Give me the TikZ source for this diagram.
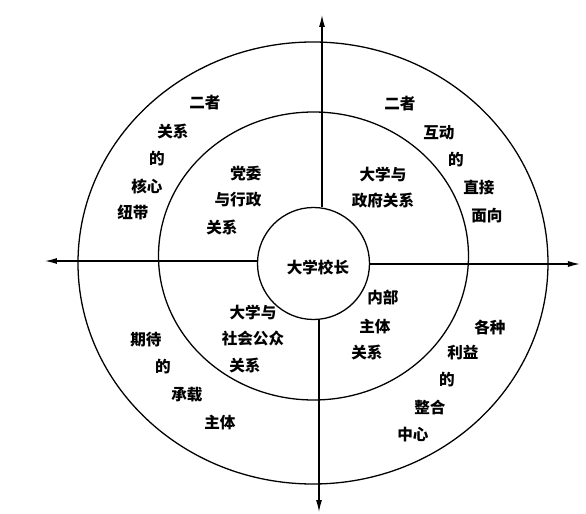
\documentclass[tikz,border=0pt]{standalone}
\usepackage{fontspec}
\newfontfamily\cjk{Noto Sans CJK SC}
\usetikzlibrary{arrows.meta}

\tikzset{
  ring/.style={line width=1.1pt},
  axis/.style={line width=1pt,-{Latex[length=3.6mm,width=1.8mm]}},
  lbl/.style={font=\cjk\bfseries\fontsize{13.3pt}{16pt}\selectfont,inner sep=0pt}
}

\begin{document}
\begin{tikzpicture}[x=0.3mm,y=0.3mm]

\useasboundingbox (-313,263) rectangle (273,-251);

% rings
\draw[ring] (0,0) ellipse [x radius=235, y radius=221];
\draw[ring] (0.5,7) ellipse [x radius=155, y radius=144];
\node[ring,draw,circle,minimum size=33.6mm,inner sep=0pt] (pres) at (0.5,-0.5) {};
\node[lbl] (prestxt) at (5,-4) {大学校长};

% axis ends
\coordinate (N) at (9,248);
\coordinate (S) at (6,-249);
\coordinate (W) at (-268,2);
\coordinate (E) at (267,-1);

\draw[axis] (pres.north -| N) -- (N);
\draw[axis] (pres.south -| S) -- (S);
\draw[axis] (pres.west |- W) -- (W);
\draw[axis] (pres.east |- E) -- (E);

% inner ring
\foreach \x/\y/\t [count=\i] in {-67/89/党委, -75/63/与行政, -91/35/关系}
	\node[lbl] (ia\i) at (\x,\y) {\t};
\foreach \x/\y/\t [count=\i] in {70/89/大学与, 70/62/政府关系}
	\node[lbl] (ib\i) at (\x,\y) {\t};
\foreach \x/\y/\t [count=\i] in {70/-35/内部, 62/-64/主体, 54/-90/关系}
	\node[lbl] (ic\i) at (\x,\y) {\t};
\foreach \x/\y/\t [count=\i] in {-60/-49/大学与, -60/-76/社会公众, -68/-103/关系}
	\node[lbl] (id\i) at (\x,\y) {\t};

% outer ring
\foreach \x/\y/\t [count=\i] in {-108/160/二者, -140/131/关系, -156/104/的, -166/77/核心, -180/51/纽带}
	\node[lbl] (oa\i) at (\x,\y) {\t};
\foreach \x/\y/\t [count=\i] in {87/159/二者, 126/130/互动, 143/103/的, 166/75/直接, 174/47/面向}
	\node[lbl] (ob\i) at (\x,\y) {\t};
\foreach \x/\y/\t [count=\i] in {177/-64/各种, 150/-90/利益, 134/-117/的, 117/-145/整合, 100/-172/中心}
	\node[lbl] (oc\i) at (\x,\y) {\t};
\foreach \x/\y/\t [count=\i] in {-167/-77/期待, -150/-104/的, -126/-132/承载, -93/-160/主体}
	\node[lbl] (od\i) at (\x,\y) {\t};

\end{tikzpicture}
\end{document}
